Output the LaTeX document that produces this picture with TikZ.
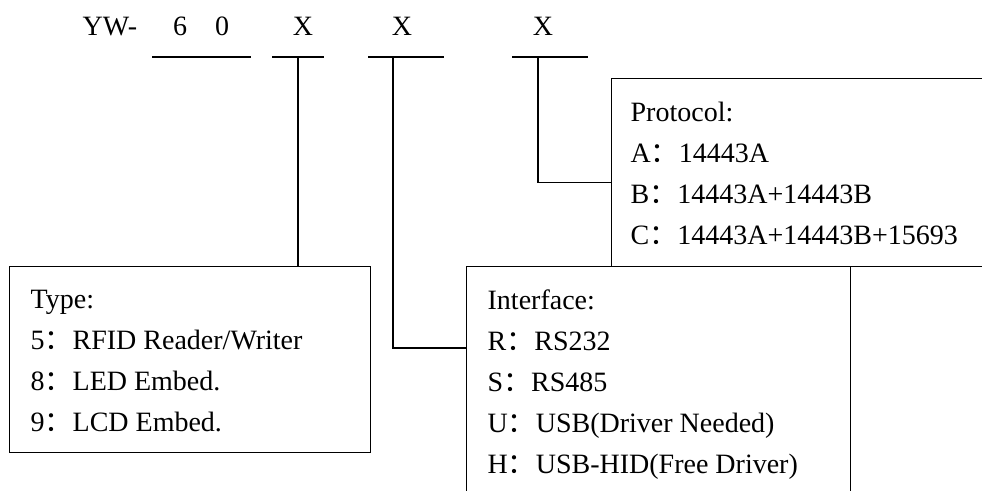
\documentclass[tikz,border=0pt]{standalone}
\usepackage{fontspec}
\setmainfont{Liberation Serif}
\newfontfamily\cjk{Noto Sans CJK SC}
\usepackage{tikz}
\usetikzlibrary{positioning}

% full width colon as printed in the part number legend
\newcommand{\fwc}{{\cjk ：}}
% fixed height of the first legend line
\newcommand{\firstline}{\rule{0pt}{19pt}}

\begin{document}
\begin{tikzpicture}
[x=1pt, y=-1pt, line width=1.3pt,
% STYLES
every node/.style={font=\fontsize{28}{41}\selectfont},
% The code style is used for the characters of the part number
code/.style={anchor=base, inner sep=0pt},
% The bar style is used for the lines under the characters
bar/.style={rectangle, draw=none, inner sep=0pt, minimum height=0pt},
% The box style is used to frame each legend
box/.style={rectangle, draw, inner sep=0pt, anchor=north west},
% The note style is used for the text of each legend
note/.style={align=left, inner sep=0pt, anchor=north west}]

\useasboundingbox (0,0) rectangle (982,490);
\clip (0,0) rectangle (982,490);

% Draw part number
\node [code, anchor=base west] (yw) at (82,35) {YW-};
\node [code] (six) at (180,35) {6};
\node [code] (zero) at (222,35) {0};
\node [code] (xtype) at (303,35) {X};
\node [code] (xiface) at (402,35) {X};
\node [code] (xproto) at (543,35) {X};

% Draw bars
\node [bar, minimum width=97pt] (bar60) at (201.5,57) {};
\node [bar, minimum width=50pt] (bartype) at (298,57) {};
\node [bar, minimum width=74pt] (bariface) at (406,57) {};
\node [bar, minimum width=74pt] (barproto) at (550,57) {};
\foreach \b in {bar60,bartype,bariface,barproto}
  \draw (\b.west) -- (\b.east);

% Draw boxes
\node [box, minimum width=361pt, minimum height=186pt] (typebox) at (9,266) {};
\node [box, minimum width=384pt, minimum height=260pt] (ifacebox) at (466,266) {};
\node [box, minimum width=420pt, minimum height=188pt] (protobox) at (611,78) {};

%%%%%%%%%%%%%%%
% Change data from here

% type
\node [note, below right=23pt and 21pt of typebox.north west] (typenote) {\firstline Type:\\
5\fwc RFID Reader/Writer\\
8\fwc LED Embed.\\
9\fwc LCD Embed.};

% interface
\node [note, below right=23pt and 21pt of ifacebox.north west] (ifacenote) {\firstline Interface:\\
R\fwc RS232\\
S\fwc RS485\\
U\fwc USB(Driver Needed)\\
H\fwc USB-HID(Free Driver)};

% protocol
\node [note, below right=23.5pt and 19pt of protobox.north west] (protonote) {\firstline Protocol:\\
A\fwc 14443A\\
B\fwc 14443A+14443B\\
C\fwc 14443A+14443B+15693};

%%%%%%%%%%%%%%%

% Draw the links between bars and boxes
\draw (bartype.center) -- (bartype.center |- typebox.north);
\draw ([xshift=-13pt]bariface.center) |- ([yshift=-82pt]ifacebox.north west);
\draw ([xshift=-12pt]barproto.center) |- ([yshift=-104.7pt]protobox.north west);

\end{tikzpicture}
\end{document}
